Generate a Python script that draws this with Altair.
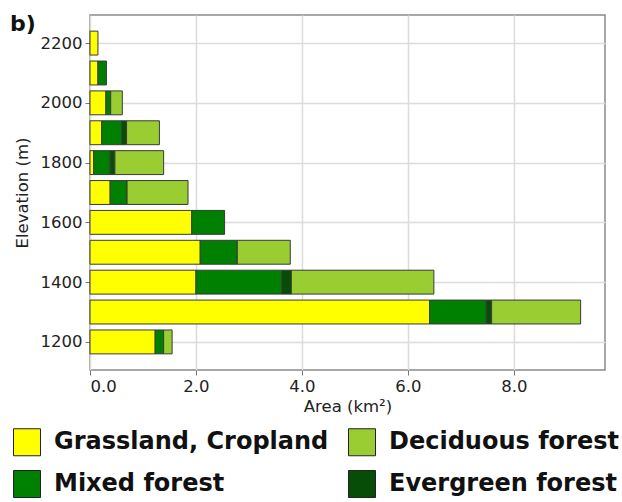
import altair as alt
import pandas as pd

elevations = [1200, 1300, 1400, 1500, 1600, 1700, 1800, 1900, 2000, 2100, 2200]
grassland = [1.23, 6.41, 2.00, 2.08, 1.92, 0.38, 0.07, 0.22, 0.30, 0.15, 0.15]
mixed = [0.16, 1.07, 1.62, 0.70, 0.62, 0.32, 0.31, 0.38, 0.09, 0.16, 0.0]
evergreen = [0.0, 0.10, 0.18, 0.0, 0.0, 0.0, 0.09, 0.09, 0.0, 0.0, 0.0]
deciduous = [0.16, 1.68, 2.69, 1.00, 0.0, 1.15, 0.92, 0.62, 0.22, 0.0, 0.0]

series = [
    ("Grassland, Cropland", grassland, 0),
    ("Mixed forest", mixed, 1),
    ("Evergreen forest", evergreen, 2),
    ("Deciduous forest", deciduous, 3),
]
# legend is filled column by column: col 1 = Grassland, Mixed; col 2 = Deciduous, Evergreen
legend_order = ["Grassland, Cropland", "Mixed forest", "Deciduous forest", "Evergreen forest"]
colors = ["#ffff00", "#008000", "#9acd32", "#074d07"]

rows = []
for name, vals, order in series:
    for e, v in zip(elevations, vals):
        rows.append({"elev": e, "cover": name, "area": v, "ord": order})
df = pd.DataFrame(rows)

FONT = "DejaVu Sans"

bars = (
    alt.Chart(df)
    .transform_stack(stack="area", groupby=["elev"], as_=["x0", "x1"], sort=[{"field": "ord", "order": "ascending"}])
    .transform_filter("datum.area > 0")
    .transform_calculate(ylo="datum.elev - 40", yhi="datum.elev + 40")
    .mark_bar(stroke="#3a3a3a", strokeWidth=1)
    .encode(
        x=alt.X(
            "x0:Q",
            scale=alt.Scale(domain=[0, 9.72], nice=False, zero=True),
            axis=alt.Axis(values=[0, 2, 4, 6, 8], format=".1f", title="Area (km²)"),
        ),
        x2="x1:Q",
        y=alt.Y(
            "ylo:Q",
            scale=alt.Scale(domain=[1106, 2294], nice=False, zero=False),
            axis=alt.Axis(values=[1200, 1400, 1600, 1800, 2000, 2200], format="d",
                          title="Elevation (m)", titlePadding=10),
        ),
        y2="yhi:Q",
        color=alt.Color(
            "cover:N",
            scale=alt.Scale(domain=legend_order, range=colors),
            legend=alt.Legend(
                title=None,
                orient="none",
                legendX=-77,
                legendY=413,
                columns=2,
                symbolType="square",
                symbolSize=729,
                symbolStrokeColor="#222",
                symbolStrokeWidth=1,
                symbolOpacity=1,
                labelFontSize=24,
                labelFont=FONT,
                labelFontWeight="bold",
                labelColor="#111",
                labelOffset=13,
                columnPadding=17,
                rowPadding=10,
                labelLimit=400,
            ),
        ),
    )
)

chart = (
    bars.properties(
        width=515,
        height=355,
        autosize=alt.AutoSizeParams(type="none"),
        padding={"left": 90, "top": 15, "right": 17, "bottom": 132},
        title=alt.TitleParams(
            "b)", anchor="start", frame="group", fontSize=22, fontWeight="bold", font=FONT,
            dx=-80, dy=38, baseline="alphabetic", offset=0, color="#111",
        ),
    )
    .configure_view(stroke="#8a8a8a", strokeWidth=1.5)
    .configure_axis(
        labelFont=FONT,
        titleFont=FONT,
        labelFontSize=16.5,
        titleFontSize=16.5,
        titleFontWeight="normal",
        labelColor="#222",
        titleColor="#222",
        gridColor="#dcdcdc",
        gridWidth=1.5,
        domain=False,
        tickColor="#777",
        tickSize=5,
        labelPadding=3,
    )
)

chart.save("out.html", embed_options={"renderer": "svg", "actions": False})
